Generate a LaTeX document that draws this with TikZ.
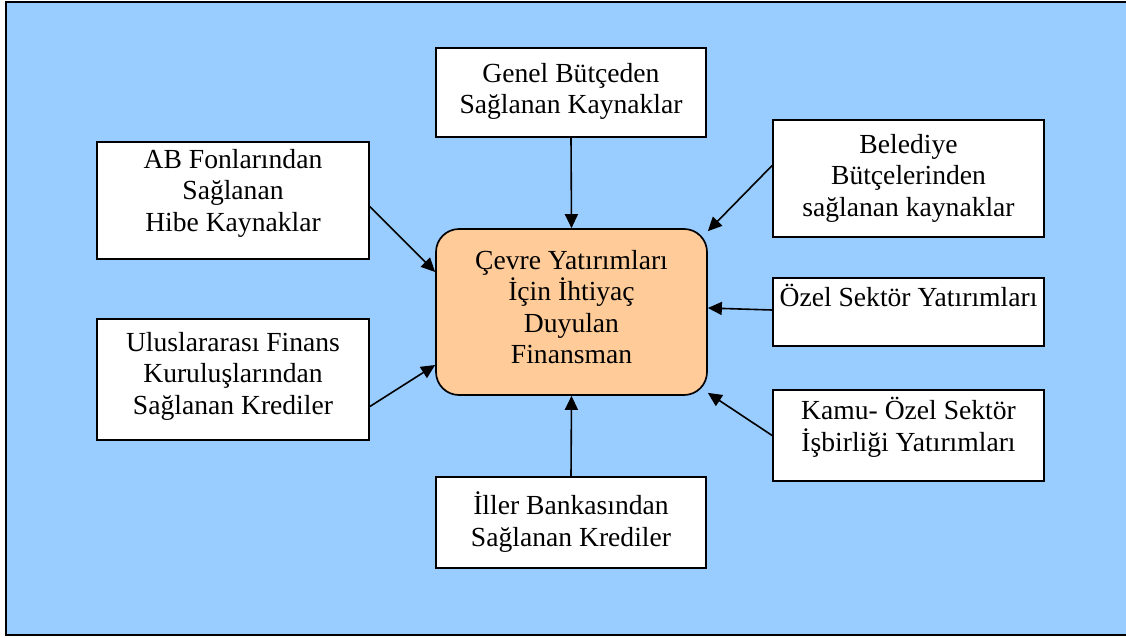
\documentclass[tikz,border=0pt]{standalone}
\usepackage{fontspec}
\setmainfont{Liberation Serif}
\usetikzlibrary{arrows.meta}
\definecolor{bgblue}{HTML}{99CCFF}
\definecolor{peach}{HTML}{FFCC99}
\tikzset{
  box/.style={draw=black, line width=1.7pt, fill=white, inner sep=0pt},
  centrebox/.style={draw=black, line width=1.7pt, fill=peach, rounded corners=23pt, inner sep=0pt},
  txt/.style={anchor=north, align=center, inner sep=0pt, font=\fontsize{27.6}{31.5}\selectfont,
    execute at begin node={\rule{0pt}{21pt}}},
  conn/.style={draw=black, line width=1.6pt, -{Triangle[length=14pt,width=13pt]}},
}
\begin{document}
\begin{tikzpicture}[x=1pt,y=-1pt]
\useasboundingbox (0,0) rectangle (1126,637);
\begin{scope}
\clip (0,0) rectangle (1126,637);
\path[fill=bgblue, draw=black, line width=2pt] (6,2) rectangle (1132,635);
\end{scope}

% boxes
\node[centrebox, minimum width=271pt, minimum height=166pt] (c) at (571.5,312) {};
\node[box, minimum width=270pt, minimum height=89pt] (genel) at (571,92.5) {};
\node[box, minimum width=272pt, minimum height=117pt] (ab) at (233,200.5) {};
\node[box, minimum width=271pt, minimum height=117pt] (bel) at (908.5,178.5) {};
\node[box, minimum width=271pt, minimum height=68pt] (ozel) at (908.5,312) {};
\node[box, minimum width=272pt, minimum height=121pt] (ulus) at (233,379.5) {};
\node[box, minimum width=271pt, minimum height=91pt] (kamu) at (908.5,435.5) {};
\node[box, minimum width=270pt, minimum height=91pt] (iller) at (571,522.5) {};

% texts
\node[txt] (c-t) at (571.5,250) {Çevre Yatırımları\\İçin İhtiyaç\\Duyulan\\Finansman};
\node[txt] (genel-t) at (571,63) {Genel Bütçeden\\Sağlanan Kaynaklar};
\node[txt] (ab-t) at (233,149) {AB Fonlarından\\Sağlanan\\Hibe Kaynaklar};
\node[txt] (bel-t) at (908.5,134) {Belediye\\Bütçelerinden\\sağlanan kaynaklar};
\node[txt] (ozel-t) at (908.5,284) {Özel Sektör Yatırımları};
\node[txt] (ulus-t) at (233,332) {Uluslararası Finans\\Kuruluşlarından\\Sağlanan Krediler};
\node[txt] (kamu-t) at (908.5,397) {Kamu- Özel Sektör\\İşbirliği Yatırımları};
\node[txt] (iller-t) at (571,492) {İller Bankasından\\Sağlanan Krediler};

% connectors
\draw[conn] (genel.south) -- (c.north);
\draw[conn] ([yshift=-6pt]ab.east) -- ([yshift=40pt]c.west);
\draw[conn] ([yshift=13pt]bel.west) -- ([yshift=-3pt]c.north east);
\draw[conn] ([yshift=2pt]ozel.west) -- ([yshift=4pt]c.east);
\draw[conn] ([yshift=-27pt]ulus.east) -- ([yshift=-53pt]c.west);
\draw[conn] (kamu.west) -- ([yshift=3pt]c.south east);
\draw[conn] (iller.north) -- (c.south);
\end{tikzpicture}
\end{document}
